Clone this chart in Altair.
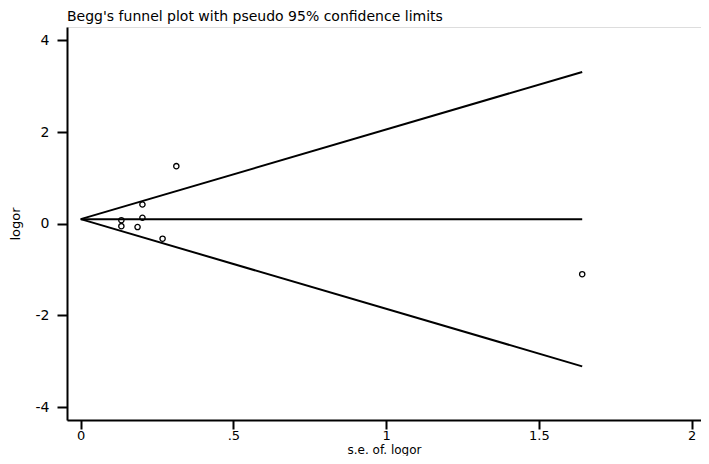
import altair as alt
import pandas as pd

# Study estimates
se = [0.313, 0.202, 0.202, 0.133, 0.133, 0.186, 0.268, 1.642]
logor = [1.256, 0.42, 0.13, 0.077, -0.053, -0.073, -0.326, -1.10]

# Pseudo 95% confidence limits and pooled estimate
ci_se = [0.0, 1.642]
ci_upper = [0.10, 3.31]
ci_lower = [0.10, -3.11]
pooled = [0.10, 0.10]

x_ticks = [0, 0.5, 1, 1.5, 2]
x_labels = ["0", ".5", "1", "1.5", "2"]
y_ticks = [-4, -2, 0, 2, 4]

FONT = "DejaVu Sans"

points = pd.DataFrame({"se": se, "logor": logor})
lines = pd.DataFrame({
    "se": ci_se * 3,
    "value": ci_upper + ci_lower + pooled,
    "series": ["upper"] * 2 + ["lower"] * 2 + ["pooled"] * 2,
})

label_expr = "".join(
    f"datum.value == {v} ? '{l}' : " for v, l in zip(x_ticks, x_labels)
) + "''"

xscale = alt.Scale(domain=[-0.045, 2.031], nice=False, zero=False)
yscale = alt.Scale(domain=[-4.28, 4.29], nice=False, zero=False)

xaxis = alt.Axis(
    values=x_ticks, labelExpr=label_expr, title="s.e. of. logor", grid=False,
    tickSize=9, tickWidth=2, domainWidth=2, domainColor="black", tickColor="black",
    labelFontSize=13, labelFont=FONT, labelColor="black", labelPadding=0,
    titleFontSize=12, titleFont=FONT, titleColor="black", titleFontWeight="normal",
    titlePadding=2,
)
yaxis = alt.Axis(
    values=y_ticks, labelExpr="datum.value + ''", title="logor", grid=False,
    tickSize=10, tickWidth=2, domainWidth=2, domainColor="black", tickColor="black",
    labelFontSize=14, labelFont=FONT, labelColor="black", labelPadding=8,
    titleFontSize=13, titleFont=FONT, titleColor="black", titleFontWeight="normal",
    titleX=-45,
)

line_layer = alt.Chart(lines).mark_line(color="black", strokeWidth=2).encode(
    x=alt.X("se:Q", scale=xscale, axis=xaxis),
    y=alt.Y("value:Q", scale=yscale, axis=yaxis),
    detail="series:N",
)

point_layer = alt.Chart(points).mark_point(
    shape="circle", filled=False, color="black", size=28, strokeWidth=1.3, opacity=1
).encode(
    x=alt.X("se:Q", scale=xscale),
    y=alt.Y("logor:Q", scale=yscale),
)

chart = alt.layer(line_layer, point_layer).properties(
    width=634,
    height=393,
    autosize=alt.AutoSizeParams(type="none"),
    padding={"left": 59, "top": 19, "right": 0, "bottom": 36},
    title=alt.Title(
        "Begg's funnel plot with pseudo 95% confidence limits",
        anchor="start", frame="group", fontSize=14, font=FONT,
        fontWeight="normal", color="black", offset=3,
    ),
).configure_view(stroke=None).configure(background="white")

chart.save("out.html", embed_options={"renderer": "svg", "actions": False})
